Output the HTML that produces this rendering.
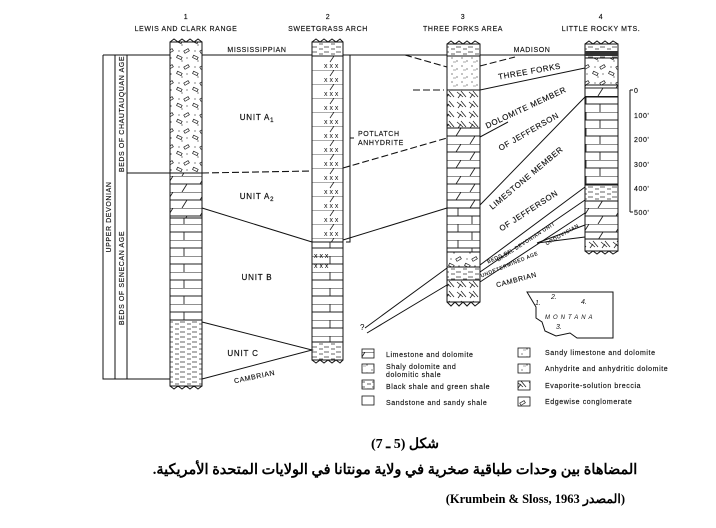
<!DOCTYPE html>
<html><head><meta charset="utf-8"><style>
html,body{margin:0;padding:0;background:#fff;width:716px;height:528px;overflow:hidden}
svg{display:block}
.t{font-family:"Liberation Sans",sans-serif;font-size:7px;fill:#111;letter-spacing:.6px;stroke:#111;stroke-width:.15px}
.u{font-family:"Liberation Sans",sans-serif;font-size:8px;fill:#111;letter-spacing:.8px;stroke:#111;stroke-width:.2px}
.ar{font-family:"Liberation Serif","DejaVu Serif",serif;font-weight:bold;fill:#000}
</style></head><body>
<svg width="716" height="528" viewBox="0 0 716 528" xmlns="http://www.w3.org/2000/svg">
<defs>
<pattern id="brick" width="32" height="16" patternUnits="userSpaceOnUse">
<rect width="32" height="16" fill="#fff"/>
<path d="M0 0H32M0 8H32M10 0V8M24 8V16" stroke="#222" stroke-width=".9" fill="none"/>
</pattern>
<pattern id="dol" width="32" height="16" patternUnits="userSpaceOnUse">
<rect width="32" height="16" fill="#fff"/>
<path d="M0 0H32M0 8H32M13 0L8 8M27 8L22 16" stroke="#222" stroke-width=".9" fill="none"/>
</pattern>
<pattern id="anh" width="32" height="14" patternUnits="userSpaceOnUse">
<rect width="32" height="14" fill="#fff"/>
<path d="M0 0H32M14 0L10 6" stroke="#222" stroke-width=".8" fill="none"/>
<text x="4" y="12" font-family="Liberation Sans" font-size="7" fill="#111">x x x</text>
</pattern>
<pattern id="stip" width="10" height="8" patternUnits="userSpaceOnUse">
<rect width="10" height="8" fill="#fff"/>
<circle cx="2" cy="2" r=".6" fill="#333"/><circle cx="7" cy="5" r=".6" fill="#333"/><path d="M3 6h3" stroke="#555" stroke-width=".5"/>
</pattern>
<pattern id="cong" width="16" height="16" patternUnits="userSpaceOnUse">
<rect width="16" height="16" fill="#fff"/>
<circle cx="3" cy="3" r=".6" fill="#333"/><circle cx="11" cy="10" r=".6" fill="#333"/><circle cx="6" cy="13" r=".6" fill="#333"/>
<rect x="8" y="2" width="5" height="2.5" transform="rotate(-30 10 3)" fill="none" stroke="#222" stroke-width=".7"/>
<rect x="1" y="8" width="5" height="2.5" transform="rotate(25 3 9)" fill="none" stroke="#222" stroke-width=".7"/>
</pattern>
<pattern id="shale" width="12" height="5" patternUnits="userSpaceOnUse">
<rect width="12" height="5" fill="#fff"/>
<path d="M0 2h5M7 4h4" stroke="#333" stroke-width=".7"/>
</pattern>
<pattern id="bx" width="12" height="10" patternUnits="userSpaceOnUse">
<rect width="12" height="10" fill="#fff"/>
<path d="M1 2l6 5M5 1l5 6M2 8l3-4" stroke="#222" stroke-width=".8"/>
</pattern>
</defs>

<g class="t" text-anchor="middle">
<text x="186" y="19">1</text><text x="186" y="31">LEWIS AND CLARK RANGE</text>
<text x="328" y="19">2</text><text x="328" y="31">SWEETGRASS ARCH</text>
<text x="463" y="19">3</text><text x="463" y="31">THREE FORKS AREA</text>
<text x="601" y="19">4</text><text x="601" y="31">LITTLE ROCKY MTS.</text>
</g>

<g stroke="#111" stroke-width="1" fill="none">
<path d="M103 55V379H170M115 55V379M127 55V379"/>
<path d="M103 55H585"/>
<path d="M127 173H170"/>
</g>
<text class="t" transform="translate(111 217) rotate(-90)" text-anchor="middle" letter-spacing="4">UPPER DEVONIAN</text>
<text class="t" transform="translate(124 114) rotate(-90)" text-anchor="middle">BEDS OF CHAUTAUQUAN AGE</text>
<text class="t" transform="translate(124 278) rotate(-90)" text-anchor="middle">BEDS OF SENECAN AGE</text>

<rect x="170" y="42" width="32" height="131" fill="url(#cong)" stroke="#111"/>
<rect x="170" y="173" width="32" height="45" fill="url(#dol)" stroke="#111"/>
<rect x="170" y="218" width="32" height="102" fill="url(#brick)" stroke="#111"/>
<rect x="170" y="320" width="32" height="66" fill="url(#shale)" stroke="#111"/>
<path d="M170 42l4-3 4 3 4-3 4 3 4-3 4 3 4-3 4 3M170 386l4 3 4-3 4 3 4-3 4 3 4-3 4 3 4-3" stroke="#111" fill="none"/>

<rect x="312" y="42" width="31" height="14" fill="url(#shale)" stroke="#111"/>
<rect x="312" y="56" width="31" height="186" fill="url(#anh)" stroke="#111"/>
<rect x="312" y="242" width="31" height="100" fill="url(#brick)" stroke="#111"/>
<rect x="312" y="342" width="31" height="18" fill="url(#shale)" stroke="#111"/>
<path d="M312 42l4-3 4 3 4-3 4 3 4-3 4 3 4-3 3 3M312 360l4 3 4-3 4 3 4-3 4 3 4-3 4 3 3-3" stroke="#111" fill="none"/>
<text x="314" y="258" font-family="Liberation Sans" font-size="7">x x x</text>
<text x="314" y="268" font-family="Liberation Sans" font-size="7">x x x</text>

<rect x="447" y="44" width="33" height="12" fill="url(#shale)" stroke="#111"/>
<rect x="447" y="56" width="33" height="34" fill="url(#stip)" stroke="#111"/>
<rect x="447" y="90" width="33" height="38" fill="url(#bx)" stroke="#111"/>
<rect x="447" y="128" width="33" height="80" fill="url(#dol)" stroke="#111"/>
<rect x="447" y="208" width="33" height="44" fill="url(#brick)" stroke="#111"/>
<rect x="447" y="252" width="33" height="15" fill="url(#cong)" stroke="#111"/>
<rect x="447" y="267" width="33" height="13" fill="url(#shale)" stroke="#111"/>
<rect x="447" y="280" width="33" height="22" fill="url(#bx)" stroke="#111"/>
<path d="M447 44l4-3 4 3 4-3 4 3 4-3 4 3 4-3 5 3M447 302l4 4 4-4 4 4 4-4 4 4 4-4 4 4 5-4" stroke="#111" fill="none"/>

<rect x="585" y="44" width="33" height="14" fill="url(#shale)" stroke="#111"/>
<rect x="585" y="51" width="33" height="5" fill="#333"/>
<rect x="585" y="58" width="33" height="27" fill="url(#cong)" stroke="#111"/>
<rect x="585" y="85" width="33" height="12" fill="url(#dol)" stroke="#111"/>
<rect x="585" y="97" width="33" height="88" fill="url(#brick)" stroke="#111"/>
<rect x="585" y="185" width="33" height="16" fill="url(#shale)" stroke="#111"/>
<rect x="585" y="201" width="33" height="38" fill="url(#dol)" stroke="#111"/>
<rect x="585" y="239" width="33" height="12" fill="url(#bx)" stroke="#111"/>
<path d="M585 44l4-3 4 3 4-3 4 3 4-3 4 3 4-3 5 3M585 251l4 3 4-3 4 3 4-3 4 3 4-3 4 3 5-3" stroke="#111" fill="none"/>

<g stroke="#111" stroke-width="1" fill="none">
<path d="M202 208L312 242"/>
<path d="M343 240L447 208"/>
<path d="M202 322L312 350L202 379"/>
<path d="M480 90L585 68"/>
<path d="M480 205L585 97"/>
<path d="M480 137L508 122"/>
<path d="M480 265L585 187"/>
<path d="M480 272L585 200"/>
<path d="M480 282L585 213"/>
<path d="M585 225L537 243L585 237"/>
<path d="M447 268L365 328M447 285L367 333"/>
<path d="M350 55H346M350 55V242H346M350 138H354"/>
</g>
<g stroke="#111" stroke-width="1.1" fill="none" stroke-dasharray="7 3">
<path d="M202 173L312 171"/>
<path d="M343 168L447 138"/>
<path d="M413 90H444"/>
<path d="M405 55L447 67M480 66L515 57"/>
</g>
<text x="360" y="330" font-family="Liberation Sans" font-size="8">?</text>

<g class="u">
<text x="257" y="120" text-anchor="middle">UNIT A<tspan font-size="6" dy="2">1</tspan></text>
<text x="257" y="199" text-anchor="middle">UNIT A<tspan font-size="6" dy="2">2</tspan></text>
<text x="257" y="280" text-anchor="middle">UNIT B</text>
<text x="243" y="356" text-anchor="middle">UNIT C</text>
</g>
<g class="t">
<text x="257" y="52" text-anchor="middle">MISSISSIPPIAN</text>
<text x="532" y="52" text-anchor="middle">MADISON</text>
<text x="358" y="136">POTLATCH</text>
<text x="358" y="145">ANHYDRITE</text>
<text transform="translate(255 379) rotate(-12)" text-anchor="middle">CAMBRIAN</text>
<text transform="translate(530 74) rotate(-10)" text-anchor="middle" font-size="8">THREE FORKS</text>
<text transform="translate(527 110) rotate(-25)" text-anchor="middle" font-size="8">DOLOMITE MEMBER</text>
<text transform="translate(530 134) rotate(-30)" text-anchor="middle" font-size="8">OF JEFFERSON</text>
<text transform="translate(528 180) rotate(-40)" text-anchor="middle" font-size="8">LIMESTONE MEMBER</text>
<text transform="translate(530 213) rotate(-33)" text-anchor="middle" font-size="8">OF JEFFERSON</text>
<text transform="translate(527 243) rotate(-33)" text-anchor="middle" font-size="5">BASAL DEVONIAN UNIT</text>
<text transform="translate(500 258) rotate(-25)" text-anchor="middle" font-size="5">BEDS OF</text>
<text transform="translate(510 266) rotate(-22)" text-anchor="middle" font-size="5">UNDETERMINED AGE</text>
<text transform="translate(517 282) rotate(-15)" text-anchor="middle">CAMBRIAN</text>
<text transform="translate(563 236) rotate(-30)" text-anchor="middle" font-size="5">ORDOVICIAN</text>
</g>

<g stroke="#111" fill="none"><path d="M630 90V212M630 90h3M630 212h3"/></g>
<g class="t" letter-spacing="0">
<text x="634" y="93">0</text><text x="634" y="118">100'</text><text x="634" y="142">200'</text>
<text x="634" y="167">300'</text><text x="634" y="191">400'</text><text x="634" y="215">500'</text>
</g>

<path d="M527 292H613V338H577L570 333L556 336L545 331L542 322L536 318L536 307Z" fill="none" stroke="#111"/>
<g font-family="Liberation Sans" font-size="7" fill="#111" font-style="italic">
<text x="535" y="305">1.</text><text x="551" y="299">2.</text><text x="581" y="304">4.</text>
<text x="545" y="319" letter-spacing="3" font-size="6">MONTANA</text><text x="556" y="329">3.</text>
</g>

<g stroke="#111" stroke-width=".8">
<rect x="362" y="349" width="12" height="9" fill="url(#dol)"/>
<rect x="362" y="364" width="12" height="9" fill="url(#stip)"/>
<rect x="362" y="380" width="12" height="9" fill="url(#shale)"/>
<rect x="362" y="396" width="12" height="9" fill="#fff"/>
<rect x="518" y="348" width="12" height="9" fill="url(#stip)"/>
<rect x="518" y="364" width="12" height="9" fill="url(#stip)"/>
<rect x="518" y="381" width="12" height="9" fill="url(#bx)"/>
<rect x="518" y="397" width="12" height="9" fill="url(#cong)"/>
</g>
<g class="t" letter-spacing=".3">
<text x="386" y="357">Limestone and dolomite</text>
<text x="386" y="369">Shaly dolomite and</text>
<text x="386" y="377">dolomitic shale</text>
<text x="386" y="389">Black shale and green shale</text>
<text x="386" y="405">Sandstone and sandy shale</text>
<text x="545" y="355">Sandy limestone and dolomite</text>
<text x="545" y="371">Anhydrite and anhydritic dolomite</text>
<text x="545" y="388">Evaporite-solution breccia</text>
<text x="545" y="404">Edgewise conglomerate</text>
</g>

<text class="ar" x="405" y="448" font-size="14" text-anchor="middle" direction="rtl">شكل (5 ـ 7)</text>
<text class="ar" x="395" y="474" font-size="14.5" text-anchor="middle" direction="rtl">المضاهاة بين وحدات طباقية صخرية في ولاية مونتانا في الولايات المتحدة الأمريكية.</text>
<text class="ar" x="625" y="503" font-size="12.5" text-anchor="end">(Krumbein &amp; Sloss, 1963 المصدر)</text>
</svg>
</body></html>
